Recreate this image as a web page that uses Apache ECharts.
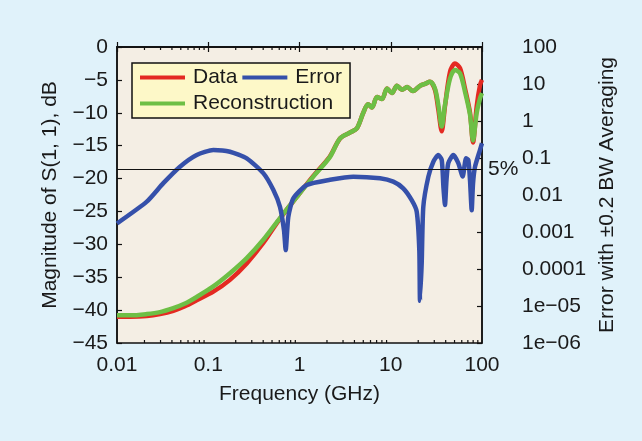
<!DOCTYPE html>
<html><head><meta charset="utf-8">
<script src="https://cdn.jsdelivr.net/npm/echarts@6/dist/echarts.min.js"></script>
<style>html,body{margin:0;padding:0;background:#e0f2fa}#c{width:642px;height:441px}</style>
</head><body><div id="c"></div>
<script>
// Frequency grid (GHz) for the S(1,1) magnitude curves
const freqS = [0.01, 0.0139, 0.0212, 0.0296, 0.0414, 0.0556, 0.0747, 0.1136, 0.173, 0.264, 0.401, 0.611, 0.932, 1.417, 2.16, 2.78, 3.58, 4.24, 5.0, 5.63, 6.23, 7.07, 8.02, 9.10, 10.3, 11.7, 13.3, 15.1, 17.5, 20.9, 23.7, 26.9, 30.5, 33.2, 36.2, 39.3, 44.6, 50.6, 57.4, 65.1, 73.9, 79.7, 87.5, 95.1, 100];
// Measured data, dB
const dataS = [-41.0, -41.0, -40.9, -40.6, -40.1, -39.4, -38.5, -37.2, -35.4, -32.9, -29.8, -26.1, -22.8, -19.6, -16.6, -13.9, -13.0, -12.4, -10.0, -8.7, -9.2, -7.6, -7.9, -6.3, -7.0, -5.9, -6.5, -6.1, -6.7, -5.9, -5.6, -5.3, -6.5, -9.5, -12.8, -9.0, -3.8, -2.5, -3.2, -6.3, -10.0, -14.5, -9.0, -5.8, -5.0];
// Reconstruction, dB
const reconS = [-40.8, -40.8, -40.6, -40.3, -39.7, -39.0, -38.0, -36.4, -34.4, -32.1, -29.3, -26.0, -22.8, -19.7, -16.7, -13.9, -13.0, -12.4, -10.0, -8.7, -9.2, -7.6, -7.9, -6.3, -7.0, -5.9, -6.5, -6.1, -6.7, -5.9, -5.6, -5.3, -6.3, -8.8, -12.1, -8.8, -4.8, -3.5, -4.0, -6.8, -10.3, -14.2, -10.0, -7.8, -7.0];
// Error curve (right log axis)
const freqE = [0.01, 0.0212, 0.0322, 0.049, 0.0747, 0.1136, 0.173, 0.264, 0.401, 0.516, 0.611, 0.676, 0.706, 0.754, 0.855, 1.20, 2.16, 3.89, 7.63, 10.66, 13.7, 16.97, 19.25, 20.56, 20.92, 21.84, 22.74, 25.8, 29.3, 33.2, 36.2, 37.8, 39.3, 40.8, 42.7, 48.5, 55.0, 61.4, 66.8, 70.8, 73.9, 77.1, 79.7, 83.8, 95.1, 100];
const errorE = [0.0017, 0.0066, 0.0209, 0.0582, 0.1205, 0.1644, 0.148, 0.0977, 0.0389, 0.0138, 0.00479, 0.00112, 0.000324, 0.00257, 0.00813, 0.0186, 0.0257, 0.0313, 0.0282, 0.0229, 0.0151, 0.00724, 0.00355, 0.000324, 0.0000138, 0.000145, 0.00479, 0.0309, 0.0794, 0.120, 0.089, 0.0158, 0.00537, 0.025, 0.0724, 0.120, 0.0724, 0.0316, 0.0977, 0.089, 0.025, 0.00389, 0.02, 0.0575, 0.166, 0.25];
const errorThreshold = 0.05;
const minorTickFreqs = [0.02, 0.03, 0.04, 0.05, 0.06, 0.07, 0.08, 0.09, 0.2, 0.3, 0.4, 0.5, 0.6, 0.7, 0.8, 0.9, 2, 3, 4, 5, 6, 7, 8, 9, 20, 30, 40, 50, 60, 70, 80, 90];
const legendNames = ['Data', 'Error', 'Reconstruction'];

const FONT = 'Liberation Sans, Arial, Helvetica, sans-serif';
const TXT = '#1a1a1a';
const zip = (xs, ys) => xs.map((x, i) => [x, ys[i]]);

function errLabel(v) {
  const p = Math.round(Math.log10(v));
  if (p >= 0) return String(Math.pow(10, p));
  if (p >= -4) return '0.' + '0'.repeat(-p - 1) + '1';
  return '1e\u2212' + String(-p).padStart(2, '0');
}

const chart = echarts.init(document.getElementById('c'), null, {renderer: 'canvas'});
chart.setOption({
  backgroundColor: '#e0f2fa',
  animation: false,
  textStyle: {fontFamily: FONT},
  grid: {left: 117, top: 47, width: 365, height: 296, show: true, backgroundColor: '#f4eee4', borderColor: '#111', borderWidth: 1.5},
  legend: {
    data: legendNames, left: 132, top: 63, width: 215, orient: 'horizontal',
    padding: [4, 8, 4, 8], itemGap: 5, itemWidth: 45, itemHeight: 4, icon: 'rect',
    backgroundColor: '#fdf8c8', borderColor: '#111', borderWidth: 1.5, borderRadius: 0,
    textStyle: {fontSize: 21, color: TXT, fontFamily: FONT, padding: [0, 3, 0, 3]}
  },
  xAxis: [{
    type: 'log', logBase: 10, min: 0.01, max: 100, position: 'bottom', gridIndex: 0,
    axisLine: {show: true, lineStyle: {color: '#111', width: 1.5}},
    axisTick: {show: true, inside: true, length: 5, lineStyle: {color: '#111', width: 1.2}},
    splitLine: {show: false}, minorTick: {show: false},
    axisLabel: {fontSize: 21, color: TXT, margin: 12, fontFamily: FONT, formatter: v => String(v)},
    name: 'Frequency (GHz)', nameLocation: 'middle', nameGap: 41,
    nameTextStyle: {fontSize: 21, color: TXT, fontFamily: FONT}
  }, {
    type: 'log', logBase: 10, min: 0.01, max: 100, position: 'top', gridIndex: 0,
    axisLine: {show: true, lineStyle: {color: '#111', width: 1.5}},
    axisTick: {show: true, inside: true, length: 5, lineStyle: {color: '#111', width: 1.2}},
    axisLabel: {show: false}, splitLine: {show: false}
  }],
  yAxis: [{
    type: 'value', min: -45, max: 0, interval: 5, position: 'left',
    axisLine: {show: true, lineStyle: {color: '#111', width: 1.5}},
    axisTick: {show: true, inside: true, length: 5, lineStyle: {color: '#111', width: 1.2}},
    splitLine: {show: false},
    axisLabel: {fontSize: 21, color: TXT, margin: 9, fontFamily: FONT, formatter: v => v < 0 ? '\u2212' + Math.abs(v) : String(v)},
    name: 'Magnitude of S(1, 1), dB', nameLocation: 'middle', nameGap: 56, nameRotate: 90,
    nameTextStyle: {fontSize: 21, color: TXT, fontFamily: FONT}
  }, {
    type: 'log', logBase: 10, min: 1e-6, max: 100, splitNumber: 8, position: 'right',
    axisLine: {show: true, lineStyle: {color: '#111', width: 1.5}},
    axisTick: {show: true, inside: true, length: 5, lineStyle: {color: '#111', width: 1.2}},
    splitLine: {show: false}, minorTick: {show: false},
    axisLabel: {fontSize: 21, color: TXT, margin: 40, fontFamily: FONT, formatter: errLabel},
    name: 'Error with \u00b10.2 BW Averaging', nameLocation: 'middle', nameGap: 114, nameRotate: 90,
    nameTextStyle: {fontSize: 21, color: TXT, fontFamily: FONT}
  }],
  series: [{
    name: 'Data', type: 'line', xAxisIndex: 0, yAxisIndex: 0, data: zip(freqS, dataS),
    showSymbol: false, symbol: 'none', smooth: 0.3, color: '#e42a22',
    lineStyle: {width: 4.5, color: '#e42a22'}
  }, {
    name: 'Reconstruction', type: 'line', xAxisIndex: 0, yAxisIndex: 0, data: zip(freqS, reconS),
    showSymbol: false, symbol: 'none', smooth: 0.3, color: '#6dbf45',
    lineStyle: {width: 4.5, color: '#6dbf45'}
  }, {
    name: 'Error', type: 'line', xAxisIndex: 0, yAxisIndex: 1, data: zip(freqE, errorE),
    showSymbol: false, symbol: 'none', smooth: 0.2, color: '#3550aa',
    lineStyle: {width: 4.5, color: '#3550aa'},
    markLine: {
      silent: true, symbol: ['none', 'none'],
      lineStyle: {color: '#111', width: 1.2, type: 'solid'},
      label: {show: true, position: 'end', formatter: '5%', fontSize: 21, color: TXT, fontFamily: FONT, distance: 6},
      data: [{yAxis: errorThreshold}]
    }
  }, {
    name: 'minorTicks', type: 'custom', xAxisIndex: 0, yAxisIndex: 0, silent: true, clip: false,
    data: minorTickFreqs.map(f => [f, -45]),
    renderItem: (params, api) => {
      const v = api.value(0);
      const b = api.coord([v, -45]);
      const t = api.coord([v, 0]);
      return {type: 'group', children: [
        {type: 'line', shape: {x1: b[0], y1: b[1], x2: b[0], y2: b[1] - 3}, style: {stroke: '#111', lineWidth: 1.2}},
        {type: 'line', shape: {x1: t[0], y1: t[1], x2: t[0], y2: t[1] + 3}, style: {stroke: '#111', lineWidth: 1.2}}
      ]};
    }
  }]
});
</script>
</body></html>
